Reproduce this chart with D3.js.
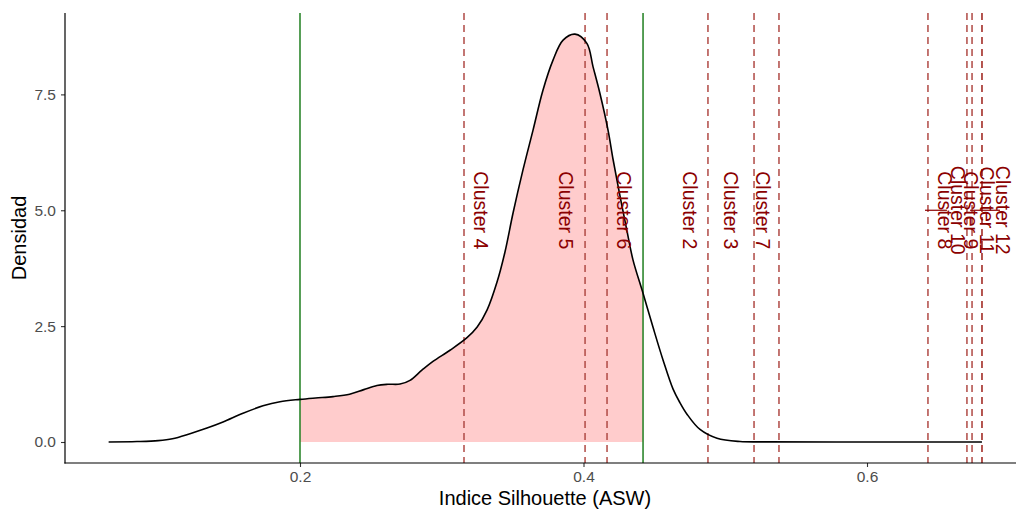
<!DOCTYPE html>
<html>
<head>
<meta charset="utf-8">
<script src="https://cdn.jsdelivr.net/npm/d3@7"></script>
<style>
  html, body { margin: 0; padding: 0; background: #ffffff; }
  svg { display: block; font-family: "Liberation Sans", Arial, sans-serif; }
</style>
</head>
<body>
<svg id="chart" width="1016" height="512"></svg>
<script>
// Kernel density of the average silhouette width (ASW)
const aswGrid = [0.065, 0.085, 0.100, 0.110, 0.1224, 0.1344, 0.1457, 0.1598, 0.1739, 0.1859,
  0.200, 0.2110, 0.2233, 0.2350, 0.2450, 0.2543, 0.2620, 0.2706, 0.2776, 0.2860,
  0.2938, 0.3058, 0.3178, 0.3250, 0.3320, 0.3390, 0.3446, 0.3503, 0.3573, 0.3644,
  0.3714, 0.3785, 0.3856, 0.3940, 0.4024, 0.4067, 0.4116, 0.4173, 0.4209, 0.4258,
  0.4307, 0.4349, 0.4420, 0.4490, 0.4561, 0.4632, 0.4680, 0.4730, 0.4822, 0.4942,
  0.5104, 0.5300, 0.6000, 0.6811];
const densityVals = [0.00, 0.01, 0.03, 0.07, 0.18, 0.30, 0.43, 0.62, 0.78, 0.87,
  0.92, 0.95, 0.98, 1.03, 1.13, 1.22, 1.245, 1.25, 1.33, 1.55,
  1.74, 1.98, 2.25, 2.48, 2.85, 3.45, 4.10, 4.94, 5.87, 6.73,
  7.59, 8.24, 8.67, 8.80, 8.60, 8.10, 7.52, 6.73, 6.09, 5.30,
  4.55, 3.93, 3.21, 2.48, 1.77, 1.14, 0.85, 0.60, 0.27, 0.08,
  0.01, 0.003, 0.001, 0.001];

// Shaded interval (solid green limits)
const bandLimits = [0.2, 0.442];

// Per-cluster ASW (dashed lines) and label anchors
const clusterNames = ["Cluster 4", "Cluster 5", "Cluster 6", "Cluster 2", "Cluster 3", "Cluster 7",
  "Cluster 8", "Cluster 10", "Cluster 9", "Cluster 11", "Cluster 12"];
const clusterASW = [0.3157, 0.4011, 0.4166, 0.4878, 0.5203, 0.5379,
  0.6430, 0.6705, 0.6741, 0.6811, 0.6811];
const labelASW = [0.3275, 0.3880, 0.4285, 0.4755, 0.5040, 0.5265,
  0.6550, 0.6642, 0.6734, 0.6850, 0.6960];
const labelDensity = [5, 5, 5, 5, 5, 5, 5, 5, 5, 5, 5];

// Leader segments between crowded labels and their lines
const leaderFrom = [0.6409, 0.6727];
const leaderTo = [0.6564, 0.6938];

const xTicks = [0.2, 0.4, 0.6];
const yTicks = [0, 2.5, 5.0, 7.5];

const svg = d3.select("#chart");
const panel = { left: 65, right: 1016, top: 13, bottom: 463 };

const x = d3.scaleLinear().domain([0.03422, 0.70511]).range([panel.left, panel.right]);
const y = d3.scaleLinear().domain([-0.453, 9.256]).range([panel.bottom, panel.top]);

const pts = aswGrid.map((v, i) => [v, densityVals[i]]);
const smooth = d3.curveCatmullRom.alpha(0.5);

// Shaded area clipped to the interval
svg.append("clipPath").attr("id", "band")
  .append("rect")
  .attr("x", x(bandLimits[0])).attr("y", panel.top)
  .attr("width", x(bandLimits[1]) - x(bandLimits[0]))
  .attr("height", y(0) - panel.top);

const area = d3.area().x(d => x(d[0])).y0(y(0)).y1(d => y(d[1])).curve(smooth);
svg.append("path").datum(pts)
  .attr("clip-path", "url(#band)")
  .attr("d", area)
  .attr("fill", "#ffcccc");

// Dashed cluster lines
svg.append("g").selectAll("line").data(clusterASW).join("line")
  .attr("x1", d => x(d)).attr("x2", d => x(d))
  .attr("y1", panel.top).attr("y2", panel.bottom)
  .attr("stroke", "#b04a45").attr("stroke-width", 1.5)
  .attr("stroke-dasharray", "7,5");

// Green limits
svg.append("g").selectAll("line").data(bandLimits).join("line")
  .attr("x1", d => x(d)).attr("x2", d => x(d))
  .attr("y1", panel.top).attr("y2", panel.bottom)
  .attr("stroke", "#1f7f1f").attr("stroke-width", 1.5);

// Density curve
const line = d3.line().x(d => x(d[0])).y(d => y(d[1])).curve(smooth);
svg.append("path").datum(pts)
  .attr("d", line)
  .attr("fill", "none")
  .attr("stroke", "#000000").attr("stroke-width", 1.6)
  .attr("stroke-linejoin", "round");

// Leader segments
svg.append("g").selectAll("line").data(leaderFrom).join("line")
  .attr("x1", d => x(d)).attr("x2", (d, i) => x(leaderTo[i]))
  .attr("y1", y(5)).attr("y2", y(5))
  .attr("stroke", "#8b0000").attr("stroke-width", 1.2);

// Cluster labels
svg.append("g").selectAll("text").data(clusterNames).join("text")
  .attr("transform", (d, i) => `translate(${x(labelASW[i])},${y(labelDensity[i])}) rotate(90)`)
  .attr("text-anchor", "middle")
  .attr("dy", "0.36em")
  .attr("font-size", 19.5)
  .attr("fill", "#8b0000")
  .text(d => d);

// Axes
const xAxis = svg.append("g").attr("transform", `translate(0,${panel.bottom})`)
  .call(d3.axisBottom(x).tickValues(xTicks).tickFormat(d3.format(".1f")).tickSize(4).tickSizeOuter(0).tickPadding(4));
const yAxis = svg.append("g").attr("transform", `translate(${panel.left},0)`)
  .call(d3.axisLeft(y).tickValues(yTicks).tickFormat(d3.format(".1f")).tickSize(4).tickSizeOuter(0).tickPadding(5));

[xAxis, yAxis].forEach(g => {
  g.select(".domain").remove();
  g.selectAll(".tick line").attr("stroke", "#333333").attr("stroke-width", 1.1);
  g.selectAll(".tick text").attr("font-size", 15.5).attr("fill", "#4d4d4d")
    .attr("font-family", "Liberation Sans, Arial, sans-serif");
});

svg.append("line").attr("x1", panel.left).attr("x2", panel.left)
  .attr("y1", panel.top).attr("y2", panel.bottom + 0.6)
  .attr("stroke", "#000").attr("stroke-width", 1.2);
svg.append("line").attr("x1", panel.left - 0.6).attr("x2", panel.right)
  .attr("y1", panel.bottom).attr("y2", panel.bottom)
  .attr("stroke", "#000").attr("stroke-width", 1.2);

// Axis titles
svg.append("text").attr("x", 545).attr("y", 505)
  .attr("text-anchor", "middle").attr("font-size", 20).attr("fill", "#000")
  .text("Indice Silhouette (ASW)");
svg.append("text")
  .attr("transform", `translate(26,${(panel.top + panel.bottom) / 2}) rotate(-90)`)
  .attr("text-anchor", "middle").attr("font-size", 20).attr("fill", "#000")
  .text("Densidad");
</script>
</body>
</html>
